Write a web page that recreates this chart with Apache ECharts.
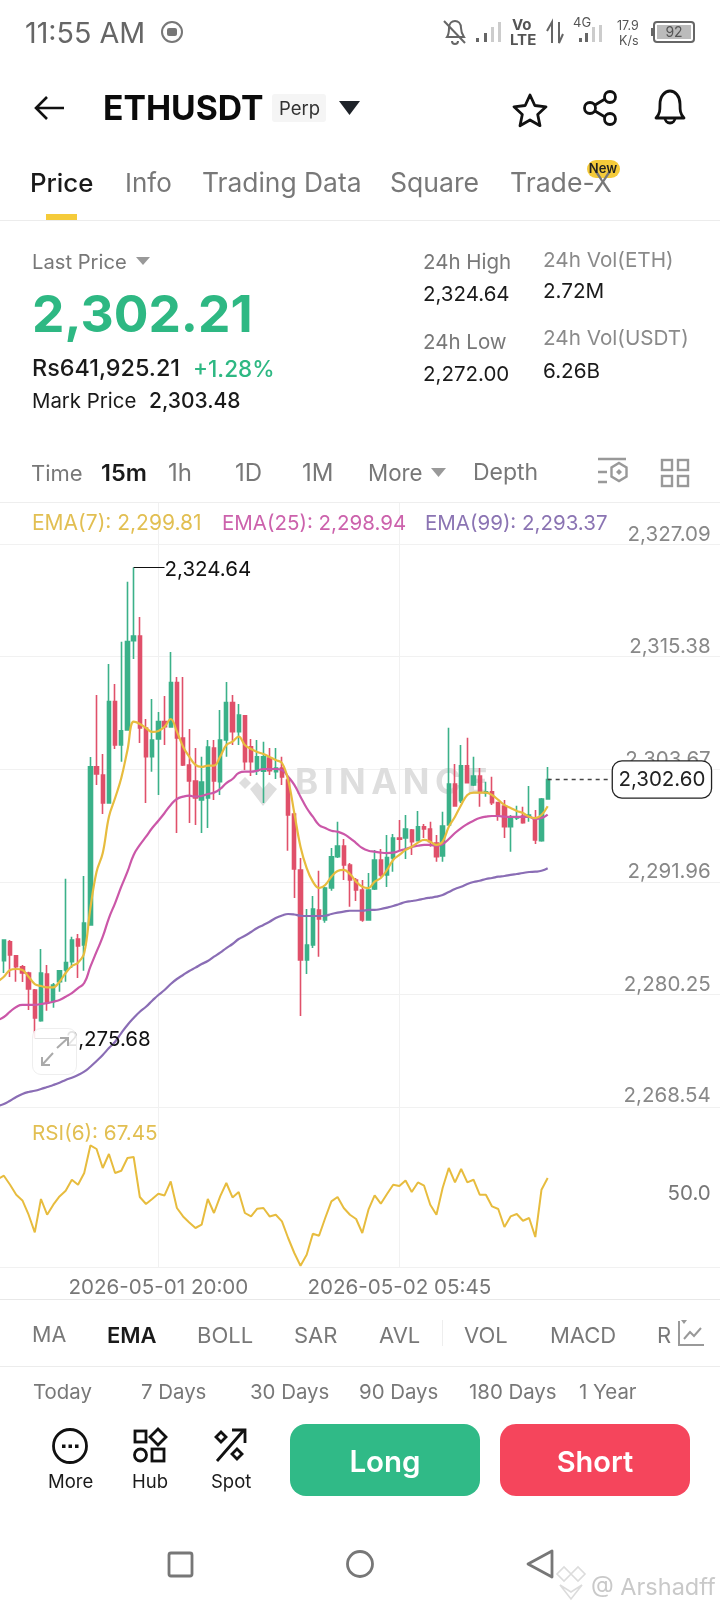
<!DOCTYPE html>
<html><head><meta charset="utf-8">
<script src="https://cdn.jsdelivr.net/npm/echarts@6/dist/echarts.min.js"></script>
<style>
html,body{margin:0;padding:0;background:#fff;width:720px;height:1612px;overflow:hidden}
#chart{position:absolute;left:0;top:0;width:720px;height:1612px}
#ui{position:absolute;left:0;top:0;width:720px;height:1612px;pointer-events:none;font-family:Inter,"Noto Sans",sans-serif}
#ui div.t{position:absolute;white-space:nowrap;transform:translateY(-50%);line-height:1.2}
#ui div.box{position:absolute}
#ui svg{position:absolute;left:0;top:0}
</style></head><body>
<div id="chart"></div><div id="ui"></div>
<script>
// open, close, low, high for every 15 minute candle
const candles = [
[2283.75,2285.91,2282.47,2285.91],[2285.73,2284.35,2282.06,2285.91],[2284.27,2283.13,2281.57,2284.35],[2283.13,2282.47,2281.54,2283.31],
[2282.47,2280.81,2278.63,2282.61],[2280.71,2277.79,2275.68,2280.81],[2277.51,2282.47,2277.4,2284.97],[2282.37,2279.35,2278.55,2283.31],
[2279.49,2281.23,2278.87,2281.43],[2281.57,2282.71,2280.53,2282.79],[2282.79,2283.55,2281.57,2292.28],[2283.65,2285.91,2282.99,2286.25],
[2286.01,2285.28,2281.95,2286.53],[2285.39,2287.67,2282.71,2292.56],[2287.47,2303.93,2287.4,2304.94],[2303.93,2303.17,2302.03,2311.39],
[2303.07,2300.15,2299.01,2305.25],[2300.15,2310.69,2300.1,2314.61],[2310.69,2306.19,2305.77,2312.53],[2306.19,2307.67,2304.45,2316.93],
[2307.75,2316.93,2307.7,2323.17],[2317.03,2317.52,2315.13,2324.64],[2317.52,2307.95,2306.39,2319.5],[2307.95,2304.97,2300.15,2308.89],
[2304.97,2306.71,2303.41,2310.97],[2306.81,2308.61,2300.99,2309.62],[2308.61,2308.09,2306.19,2311.28],[2308.06,2312.67,2308.0,2315.86],
[2312.67,2306.91,2297.03,2313.26],[2306.91,2304.11,2304.0,2313.26],[2304.11,2302.44,2298.07,2307.85],[2302.44,2300.67,2297.87,2305.87],
[2300.47,2302.34,2297.03,2304.97],[2300.67,2305.98,2297.55,2306.71],[2305.87,2302.44,2300.47,2306.71],[2302.37,2306.71,2300.99,2309.83],
[2306.71,2310.59,2304.97,2312.74],[2310.59,2307.57,2306.19,2311.39],[2307.57,2309.31,2306.19,2310.45],[2309.23,2304.45,2303.59,2309.31],
[2306.01,2304.45,2302.96,2306.81],[2303.51,2304.97,2303.07,2306.71],[2303.46,2304.97,2300.15,2306.53],[2304.83,2303.51,2303.07,2305.87],
[2303.41,2303.79,2302.65,2305.87],[2303.79,2302.86,2302.03,2304.97],[2302.55,2298.91,2295.19,2302.75],[2299.01,2293.29,2290.27,2299.11],
[2293.19,2283.83,2278.0,2294.43],[2283.83,2285.39,2282.37,2289.13],[2285.39,2289.13,2285.07,2290.48],[2289.03,2288.09,2284.17,2293.11],
[2287.99,2291.31,2287.71,2291.45],[2291.31,2294.57,2291.03,2295.47],[2294.57,2295.68,2294.43,2298.21],[2295.68,2293.71,2292.15,2296.41],
[2293.71,2292.15,2289.37,2293.91],[2292.15,2291.11,2289.96,2292.35],[2291.11,2287.99,2287.81,2292.15],[2287.99,2291.11,2287.9,2292.87],
[2291.21,2294.23,2291.11,2295.27],[2294.23,2292.67,2292.49,2295.37],[2292.67,2294.47,2291.42,2296.83],[2294.43,2296.51,2293.01,2296.93],
[2296.51,2296.4,2295.27,2298.39],[2296.51,2297.45,2294.33,2298.91],[2297.35,2296.13,2294.75,2297.45],[2296.23,2297.69,2296.2,2299.32],
[2297.69,2297.45,2296.51,2297.97],[2297.45,2296.13,2295.61,2298.21],[2295.99,2294.57,2294.05,2296.83],[2294.64,2297.76,2294.05,2299.25],
[2297.87,2302.13,2297.8,2307.99],[2302.13,2299.84,2299.77,2304.21],[2300.39,2304.03,2300.15,2306.19],[2304.03,2302.27,2302.2,2306.95],
[2302.03,2302.96,2301.93,2304.97],[2302.96,2301.33,2299.77,2303.79],[2301.2,2301.33,2300.81,2302.37],[2301.33,2300.19,2299.95,2302.89],
[2300.19,2298.91,2298.31,2300.29],[2299.84,2297.69,2296.51,2300.47],[2297.69,2298.73,2295.09,2298.91],[2298.6,2298.73,2298.39,2299.87],
[2298.8,2298.11,2298.0,2299.77],[2298.7,2298.91,2298.21,2301.92],[2298.49,2296.31,2295.89,2299.43],[2296.23,2300.57,2296.13,2300.67],
[2300.57,2302.6,2300.5,2303.9]];
// the line series start one candle earlier, left of the first visible candle
const ema7 = [2281.57,2282.09,2282.79,2282.89,2282.79,2282.09,2281.33,2281.12,2280.99,2280.99,2281.57,2282.47,2283.2,2283.55,2284.55,2289.23,2293.01,2294.95,2298.73,2300.67,2302.75,2305.67,2308.61,2308.37,2307.95,2307.54,2307.64,2308.09,2308.89,2307.57,2306.01,2304.97,2304.11,2303.9,2304.03,2304.03,2304.97,2306.19,2306.53,2307.05,2306.19,2305.77,2305.46,2305.25,2304.94,2304.63,2304.31,2302.55,2299.11,2295.61,2293.39,2291.97,2291.31,2291.63,2292.49,2293.08,2293.19,2292.77,2291.97,2291.45,2291.31,2291.97,2292.35,2293.19,2294.23,2294.75,2295.27,2295.61,2296.03,2296.31,2296.13,2295.79,2296.13,2297.69,2298.73,2299.95,2300.99,2301.23,2301.23,2301.23,2300.99,2300.47,2299.95,2299.63,2299.32,2299.11,2298.73,2298.59,2298.91,2299.81];
const ema25 = [2277.59,2277.9,2278.45,2278.94,2279.15,2279.15,2279.15,2279.25,2279.35,2279.49,2279.67,2280.01,2280.39,2280.91,2281.43,2283.13,2284.69,2286.25,2288.19,2289.75,2291.45,2293.01,2294.75,2295.79,2296.65,2297.55,2298.31,2299.11,2299.95,2300.57,2300.81,2300.91,2300.81,2300.88,2301.09,2301.23,2301.61,2302.23,2302.65,2303.27,2303.41,2303.41,2303.51,2303.69,2303.69,2303.69,2303.59,2302.89,2302.03,2300.81,2299.63,2298.73,2297.87,2297.55,2297.27,2297.17,2296.93,2296.51,2295.99,2295.47,2295.19,2295.09,2294.99,2294.95,2294.99,2295.19,2295.37,2295.58,2295.71,2295.79,2295.79,2295.71,2295.89,2296.41,2297.03,2297.55,2297.97,2298.31,2298.59,2298.73,2298.8,2298.8,2298.73,2298.7,2298.7,2298.7,2298.7,2298.49,2298.59,2298.94];
const ema99 = [2268.64,2268.85,2269.19,2269.58,2269.89,2270.1,2270.23,2270.41,2270.62,2270.83,2271.07,2271.35,2271.59,2271.87,2272.21,2272.73,2273.32,2273.95,2274.67,2275.33,2276.23,2277.07,2277.79,2278.45,2278.97,2279.59,2280.19,2280.71,2281.33,2281.85,2282.27,2282.68,2283.03,2283.41,2283.72,2284.17,2284.59,2285.07,2285.49,2286.01,2286.35,2286.74,2287.15,2287.47,2287.81,2288.19,2288.45,2288.61,2288.56,2288.43,2288.4,2288.4,2288.4,2288.43,2288.61,2288.75,2288.85,2288.95,2288.95,2288.95,2289.03,2289.03,2289.13,2289.27,2289.44,2289.65,2289.86,2289.96,2290.07,2290.2,2290.31,2290.41,2290.59,2290.9,2291.21,2291.45,2291.73,2291.94,2292.07,2292.25,2292.35,2292.49,2292.56,2292.67,2292.77,2292.87,2292.98,2293.01,2293.11,2293.37];
const rsi6 = [66.8,69.1,62.8,55.8,51.8,41.8,29.4,52.8,41.8,48.8,54.6,58.6,66.3,62.8,71.0,90.3,87.8,74.5,84.3,71.0,72.6,81.5,82.2,54.2,49.3,52.8,56.5,55.3,65.1,46.5,40.6,36.4,32.5,34.8,52.8,43.0,54.6,64.0,53.9,57.7,43.0,40.6,46.0,46.5,40.6,41.8,37.1,25.5,15.0,6.1,13.8,28.5,27.1,39.5,51.1,54.2,46.5,41.8,38.8,29.0,45.3,55.3,49.5,56.3,62.8,61.9,65.8,57.7,64.4,62.1,48.8,41.8,60.5,74.5,64.4,73.8,64.4,66.3,55.8,55.8,47.6,45.8,33.2,40.6,42.3,37.6,39.5,26.2,59.3,67.45];
const priceTicks = [2268.54,2280.25,2291.96,2303.67,2315.38,2327.09];
const rsiTicks = [50];
const timeTicks = ['2026-05-01 20:00','2026-05-02 05:45'];
const highPrice = 2324.64, lowPrice = 2275.68, lastPrice = 2302.60;

// one category every 15 minutes: 90 with data, then empty room on the right
const pad = n => String(n).padStart(2,'0');
const categories = [];
for (let k = 0; k < 118; k++) {
  const d = new Date(Date.UTC(2026,4,1,13,30) + k*900000);
  categories.push(`${d.getUTCFullYear()}-${pad(d.getUTCMonth()+1)}-${pad(d.getUTCDate())} ${pad(d.getUTCHours())}:${pad(d.getUTCMinutes())}`);
}
const money = v => v.toLocaleString('en-US',{minimumFractionDigits:2,maximumFractionDigits:2});
const FONT = 'Inter', GREEN='#3BB189', RED='#E0506A', GRID='#f1f1f1';
const gridLine = {show:true, lineStyle:{color:GRID,width:1}};
const isTimeTick = (i,v) => timeTicks.includes(v);
const catAt = i => categories[i+1];

const chart = echarts.init(document.getElementById('chart'),null,{renderer:'canvas'});
chart.setOption({
  animation:false, backgroundColor:'#fff',
  grid:[{left:-2.3,width:723,top:503,height:604,outerBoundsMode:'none'},{left:-2.3,width:723,top:1107,height:160,outerBoundsMode:'none'}],
  xAxis:[
   {type:'category',gridIndex:0,data:categories,boundaryGap:false,axisLine:{show:false},axisTick:{show:false},axisLabel:{show:false},
    splitLine:{show:true,interval:isTimeTick,lineStyle:{color:GRID,width:1}}},
   {type:'category',gridIndex:1,data:categories,boundaryGap:false,axisLine:{show:true,lineStyle:{color:GRID}},axisTick:{show:false},
    axisLabel:{show:true,interval:isTimeTick,color:'#777',fontFamily:FONT,fontSize:20.6,margin:10,hideOverlap:false},
    splitLine:{show:true,interval:isTimeTick,lineStyle:{color:GRID,width:1}}}
  ],
  yAxis:[
   {type:'value',gridIndex:0,position:'right',min:2268.54,max:2331.35,axisLine:{show:false},
    axisTick:{show:false,customValues:priceTicks},splitLine:gridLine,
    axisLabel:{show:true,inside:true,customValues:priceTicks,formatter:v=>v===priceTicks[0]?`{low|${money(v)}}`:money(v),
      rich:{low:{padding:[0,0,4,0],color:'#888',fontFamily:FONT,fontSize:20.5,lineHeight:19}},
      color:'#888',fontFamily:FONT,fontSize:20.5,margin:10,verticalAlignMinLabel:'bottom',verticalAlignMaxLabel:'bottom',verticalAlign:'bottom',lineHeight:19}},
   {type:'value',gridIndex:1,position:'right',min:5.2,max:117.2,axisLine:{show:false},
    axisTick:{show:false,customValues:rsiTicks},splitLine:{show:false},
    axisLabel:{show:true,inside:true,customValues:rsiTicks,formatter:v=>v.toFixed(1),color:'#777',fontFamily:FONT,fontSize:20.5,margin:10,verticalAlign:'bottom',lineHeight:19}}
  ],
  series:[
   {name:'ETHUSDT',type:'candlestick',xAxisIndex:0,yAxisIndex:0,barWidth:3.8,z:3,
    data:[['-','-','-','-']].concat(candles),
    itemStyle:{color:GREEN,color0:RED,borderColor:GREEN,borderColor0:RED,borderWidth:1.6},
    markLine:{silent:true,symbol:'none',animation:false,label:{show:false},emphasis:{disabled:true},data:[
      [{coord:[catAt(21),highPrice],lineStyle:{color:'#111',width:1,type:'solid'}},{coord:[catAt(26),highPrice]}],
      [{coord:[catAt(5),lowPrice],lineStyle:{color:'#111',width:1,type:'solid'}},{coord:[catAt(10),lowPrice]}],
      [{coord:[catAt(88),lastPrice],lineStyle:{color:'#444',width:1.4,type:[4,4]}},{coord:[catAt(98),lastPrice]}]
    ]},
    markPoint:{silent:true,symbol:'circle',symbolSize:0,animation:false,data:[
      {coord:[catAt(26),highPrice],label:{show:true,position:'right',distance:0,offset:[0,2],formatter:money(highPrice),color:'#111',fontFamily:FONT,fontSize:20.5}},
      {coord:[catAt(10),lowPrice],label:{show:true,position:'right',distance:0,offset:[0,2],formatter:money(lowPrice),color:'#111',fontFamily:FONT,fontSize:20.5}},
      {coord:[catAt(106),lastPrice],label:{show:true,position:'inside',offset:[3,0],formatter:money(lastPrice),color:'#222',fontFamily:FONT,fontSize:20.5,backgroundColor:'#fff',borderColor:'#222',borderWidth:1.3,borderRadius:9,padding:[8,5.5,7,5.5]}}
    ]}},
   {name:'EMA(99)',type:'line',xAxisIndex:0,yAxisIndex:0,data:ema99,smooth:0.5,showSymbol:false,z:4,lineStyle:{color:'#8A6DB5',width:2.2}},
   {name:'EMA(25)',type:'line',xAxisIndex:0,yAxisIndex:0,data:ema25,smooth:0.5,showSymbol:false,z:5,lineStyle:{color:'#CB57A8',width:2.2}},
   {name:'EMA(7)',type:'line',xAxisIndex:0,yAxisIndex:0,data:ema7,smooth:0.4,showSymbol:false,z:6,lineStyle:{color:'#E7BC3E',width:2.2}},
   {name:'RSI(6)',type:'line',xAxisIndex:1,yAxisIndex:1,data:rsi6,showSymbol:false,z:4,lineStyle:{color:'#E7BC3E',width:2}}
  ],
  graphic:{elements:[
    {type:'text',z:1,style:{x:295,y:766,text:'B\u2009I\u2009N\u2009A\u2009N\u2009C\u2009E',fill:'#dedede',font:'bold 35px Inter'}},
    {type:'polygon',z:1,shape:{points:[[245,777],[251,783],[245,789],[239,783]]},style:{fill:'#dedede'}},
    {type:'polygon',z:1,shape:{points:[[250,789],[257,782],[263,789],[269,782],[277,789],[263,806]]},style:{fill:'#dedede'}}
  ]}
});

// app chrome around the chart
const ui = document.getElementById('ui');
const C1='#1a1a1a', C2='#787878';
const texts = [
 ['11:55 AM',25,33,28.7,'#666',400],
 ['Vo',512,25,15,'#555',700],['LTE',510,40,15,'#555',700],['4G',573,23,13,'#555',400],['17.9',617,25,12.5,'#555',400],['K/s',619,40,12.5,'#555',400],
 ['ETHUSDT',103,108,33.7,'#0b0b0b',700],['Perp',279,108,18.5,'#333',400],
 ['Price',30,183,25.8,C1,500],['Info',125,183,26,C2,400],['Trading Data',202,183,26.4,C2,400],['Square',390,183,26.6,C2,400],['Trade-X',510,183,26.6,C2,400],
 ['Last Price',32,262,20.2,C2,400],['2,302.21',32,314,51.5,'#2EB883',700],['Rs641,925.21',32,368,23.4,C1,500],['+1.28%',193,368,22.5,'#2EB883',500],
 ['Mark Price',32,401,20.4,C1,400],['2,303.48',149,401,21,C1,500],
 ['24h High',423,262,20.5,C2,400],['2,324.64',423,294,20.5,C1,400],['24h Low',423,342,20.5,C2,400],['2,272.00',423,374,20.5,C1,400],
 ['24h Vol(ETH)',543,260,20.7,'#8a8a8a',400],['2.72M',543,291,20.7,C1,400],['24h Vol(USDT)',543,338,20.7,'#8a8a8a',400],['6.26B',543,371,20.7,C1,400],
 ['Time',31,472.5,22,C2,400],['15m',101,472.5,23.5,C1,600],['1h',168,472.5,24,C2,400],['1D',235,472.5,24,C2,400],['1M',302,472.5,24,C2,400],['More',368,472.5,22.3,C2,400],['Depth',473,472.5,23,C2,400],
 ['EMA(7): 2,299.81',32,523,21,'#E2BF52',400],['EMA(25): 2,298.94',222,523,20.5,'#CC62AC',400],['EMA(99): 2,293.37',425,523,20.5,'#8B74B3',400],
 ['RSI(6): 67.45',32,1133,20.7,'#E2BF52',400],
 ['MA',32,1335,21.5,C2,400],['EMA',107,1335,22,C1,600],['BOLL',197,1335,22,C2,400],['SAR',294,1335,22,C2,400],['AVL',379,1335,22,C2,400],['VOL',464,1335,22,C2,400],['MACD',550,1335,22,C2,400],['R',657,1335,22,C2,400],
 ['Today',33,1392,20.4,C2,400],['7 Days',141,1392,20.4,C2,400],['30 Days',250,1392,20.4,C2,400],['90 Days',359,1392,20.4,C2,400],['180 Days',469,1392,20.4,C2,400],['1 Year',579,1392,20.4,C2,400],
 ['More',48,1481,18.5,C1,400],['Hub',132,1481,18.5,C1,400],['Spot',211,1481,18.5,C1,400],
 ['@ Arshadff',591,1587,23.5,'#c9c9c9',400]
];
function box(x,y,w,h,bg,r,extra){const d=document.createElement('div');d.className='box';d.style.cssText=`left:${x}px;top:${y}px;width:${w}px;height:${h}px;background:${bg};border-radius:${r||0}px;${extra||''}`;ui.appendChild(d);return d;}
box(0,220,720,1,'#ececec');box(46,214,31,6,'#F5CB3A');box(272,94,54,28,'#f5f5f5',3);
box(0,502,720,1,'#eeeeee');box(0,1299,720,1,'#e8e8e8');box(0,1366,720,1,'#ececec');box(442,1320,1,26,'#eeeeee');
box(587,160,33,18,'#F5CB3A',9);
// zoom button over the chart
box(32,1028,45,47,'rgba(255,255,255,.88)',9,'border:1.5px solid #eeeeee;box-sizing:border-box;');
box(290,1424,190,72,'#30BA87',16,'');box(500,1424,190,72,'#F5455C',16,'');

const svg = `<svg width="720" height="1612" viewBox="0 0 720 1612" fill="none">
<g stroke="#777" stroke-width="2"><circle cx="172" cy="32" r="10"/></g><rect x="167" y="28" width="10" height="8" rx="2" fill="#777"/>
<g stroke="#666" stroke-width="2"><path d="M447 37c2-3 2-6 2-9 0-5 3-7 6-7s6 2 6 7c0 3 1 6 3 9z"/><path d="M444 21l21 22"/><path d="M452 41a3 3 0 0 0 6 0"/></g>
<g fill="#666"><rect x="476" y="38" width="3" height="4"/><rect x="484" y="33" width="3" height="9"/></g><g fill="#ccc"><rect x="491" y="27" width="3" height="15"/><rect x="498" y="22" width="3" height="20"/></g>
<path d="M552 43V22l-5 9M559 22v21l4-9" stroke="#666" stroke-width="2"/>
<g fill="#666"><rect x="579" y="38" width="3" height="4"/><rect x="585" y="33" width="3" height="9"/></g><g fill="#ccc"><rect x="592" y="27" width="3" height="15"/><rect x="599" y="25" width="3" height="17"/></g>
<rect x="654" y="22" width="40" height="20" rx="3" stroke="#666" stroke-width="2"/><rect x="657" y="25" width="34" height="14" fill="#bbb"/><rect x="651" y="28" width="2" height="8" fill="#666"/>
<path d="M64 108H36M47 97L36 108l11 11" stroke="#111" stroke-width="2.6"/>
<path d="M339 101h21l-10.5 14z" fill="#1E2329"/>
<path d="M530 95l4.800 10.500 11.200 1.300-8.300 7.700 2.300 11.200-10-5.700-10 5.700 2.300-11.200-8.300-7.700 11.200-1.300z" stroke="#111" stroke-width="2.800" stroke-linejoin="round"/>
<g stroke="#111" stroke-width="2.800"><circle cx="590" cy="108" r="5.500"/><circle cx="610" cy="97" r="5.500"/><circle cx="610" cy="119" r="5.500"/><path d="M595 105l10-6M595 111l10 6"/></g>
<g stroke="#111" stroke-width="2.800" stroke-linejoin="round"><path d="M656 118c4-4 4-8 4-14 0-8 5-13 10-13s10 5 10 13c0 6 0 10 4 14z"/><path d="M665 118a5 5 0 0 0 10 0"/></g>
<path d="M136 257h14l-7 8z" fill="#999"/><path d="M431 468h15l-7.500 9z" fill="#999"/>
<g stroke="#999" stroke-width="2.400"><path d="M598 459h28M598 472h9M598 482h9"/><path d="M619 463l7.500 4.500v9l-7.500 4.500-7.500-4.500v-9z"/></g><path d="M619 469l3 3-3 3-3-3z" fill="#999"/>
<g stroke="#999" stroke-width="2.400"><rect x="662" y="460" width="10" height="10"/><rect x="678" y="460" width="10" height="10"/><rect x="662" y="476" width="10" height="10"/><rect x="678" y="476" width="10" height="10"/></g>
<g stroke="#aaa" stroke-width="2"><path d="M57 1048l11-10M60 1038h8v8M42 1065l11-12M42 1057v8h8"/></g>
<g stroke="#999" stroke-width="2"><path d="M679 1321v24h25M684 1339l6-7 4 4 7-8"/></g><path d="M681 1320h6l-3 4z" fill="#999"/>
<circle cx="70" cy="1446" r="16.500" stroke="#111" stroke-width="2.800"/><g fill="#111"><rect x="62" y="1444.500" width="3.500" height="3.500"/><rect x="68.500" y="1444.500" width="3.500" height="3.500"/><rect x="75" y="1444.500" width="3.500" height="3.500"/></g>
<g stroke="#111" stroke-width="2.800"><rect x="135" y="1431" width="11" height="11"/><path d="M158 1429l8 8-8 8-8-8z"/><circle cx="140.500" cy="1455" r="6"/><rect x="152" y="1449" width="12" height="12"/></g>
<g stroke="#111" stroke-width="2.800"><path d="M217 1461l27-31M232 1430h13v13"/><path d="M221 1432l5 5-5 5-5-5zM237 1449l5 5-5 5-5-5z"/></g>
<g stroke="#777" stroke-width="2.800"><rect x="169" y="1553" width="23" height="23" rx="2"/><circle cx="360" cy="1564" r="12.500"/><path d="M552 1551v26l-24-13z" stroke-linejoin="round"/></g>
<g stroke="#dcdcdc" stroke-width="1.600"><path d="M571 1574l-7 7-7-7 7-7zM571 1574l7 7 7-7-7-7z"/><path d="M560 1585l11 14 11-14-11 7z"/></g>
</svg>`;
ui.insertAdjacentHTML('beforeend',svg);
for(const [t,x,y,s,c,w] of texts){const d=document.createElement('div');d.className='t';d.textContent=t;d.style.cssText=`left:${x}px;top:${y}px;font-size:${s}px;color:${c};font-weight:${w};`;ui.appendChild(d);}
const add=(t,cx,y,s,c,w)=>{const d=document.createElement('div');d.className='t';d.textContent=t;d.style.cssText=`left:${cx}px;top:${y}px;font-size:${s}px;color:${c};font-weight:${w};transform:translate(-50%,-50%);`;ui.appendChild(d);};
add('New',603,169,13,'#222',600);add('Long',385,1462,29.5,'#fff',600);add('Short',595,1462,29,'#fff',600);add('92',674,32,14,'#555',400);
</script></body></html>
